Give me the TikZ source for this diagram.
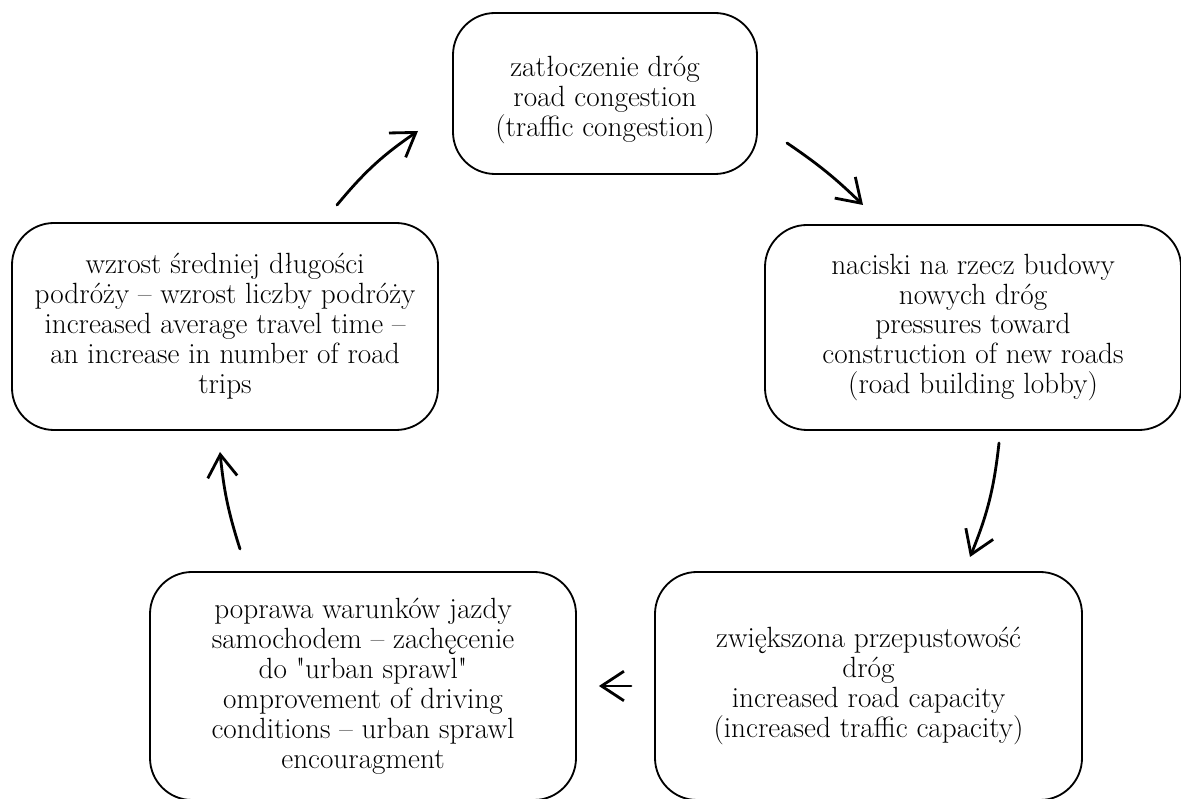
\documentclass[tikz,border=0pt]{standalone}
\usepackage{fontspec}
\newfontfamily\boxfont{Latin Modern Roman}
\usetikzlibrary{arrows.meta}

\begin{document}
\begin{tikzpicture}[
        box/.style={rectangle, draw, line width=1.3pt, rounded corners=1.05cm, align=center, inner sep=0pt, font=\boxfont\fontsize{20.8}{21.3}\selectfont},
        arrow/.style={-{Straight Barb[length=16pt, width=21pt]}, line width=2pt, line cap=round}
    ]
        \clip (0,0) rectangle (29.525,19.975);
        % boxes of the cycle
        \node[box, minimum width=7.6cm, minimum height=4.025cm] (cong) at (15.125,17.6375) {\rule{0pt}{0.85cm}zatłoczenie dróg\\road congestion\\(traffic congestion)};
        \node[box, minimum width=10.4cm, minimum height=5.125cm] (lobby) at (24.325,11.7875) {naciski na rzecz budowy\\nowych dróg\\pressures toward\\construction of new roads\\(road building lobby)};
        \node[box, minimum width=10.675cm, minimum height=5.7cm] (capac) at (21.7125,2.825) {zwiększona przepustowość\\dróg\\increased road capacity\\(increased traffic capacity)};
        \node[box, minimum width=10.65cm, minimum height=5.7cm] (sprawl) at (9.075,2.825) {poprawa warunków jazdy\\samochodem – zachęcenie\\do "urban sprawl"\\omprovement of driving\\conditions – urban sprawl\\encouragment};
        \node[box, minimum width=10.65cm, minimum height=5.175cm] (trips) at (5.625,11.8125) {wzrost średniej długości\\podróży – wzrost liczby podróży\\increased average travel time –\\an increase in number of road\\trips};
        % arrow ends
        \coordinate (a1) at (8.425,14.85);
        \coordinate (b1) at (10.45,16.7);
        \coordinate (a2) at (19.675,16.4);
        \coordinate (b2) at (21.575,14.85);
        \coordinate (a3) at (24.975,8.9);
        \coordinate (b3) at (24.25,6.05);
        \coordinate (a5) at (6.0,6.25);
        \coordinate (b5) at (5.5,8.675);
        \draw[arrow] (a1) to[bend left=8] (b1);
        \draw[arrow] (a2) to[bend left=5] (b2);
        \draw[arrow] (a3) to[bend left=8] (b3);
        \draw[arrow, shorten <=0.575cm, shorten >=0.55cm] (capac) -- (sprawl);
        \draw[arrow] (a5) to[bend left=6] (b5);
    \end{tikzpicture}
\end{document}
